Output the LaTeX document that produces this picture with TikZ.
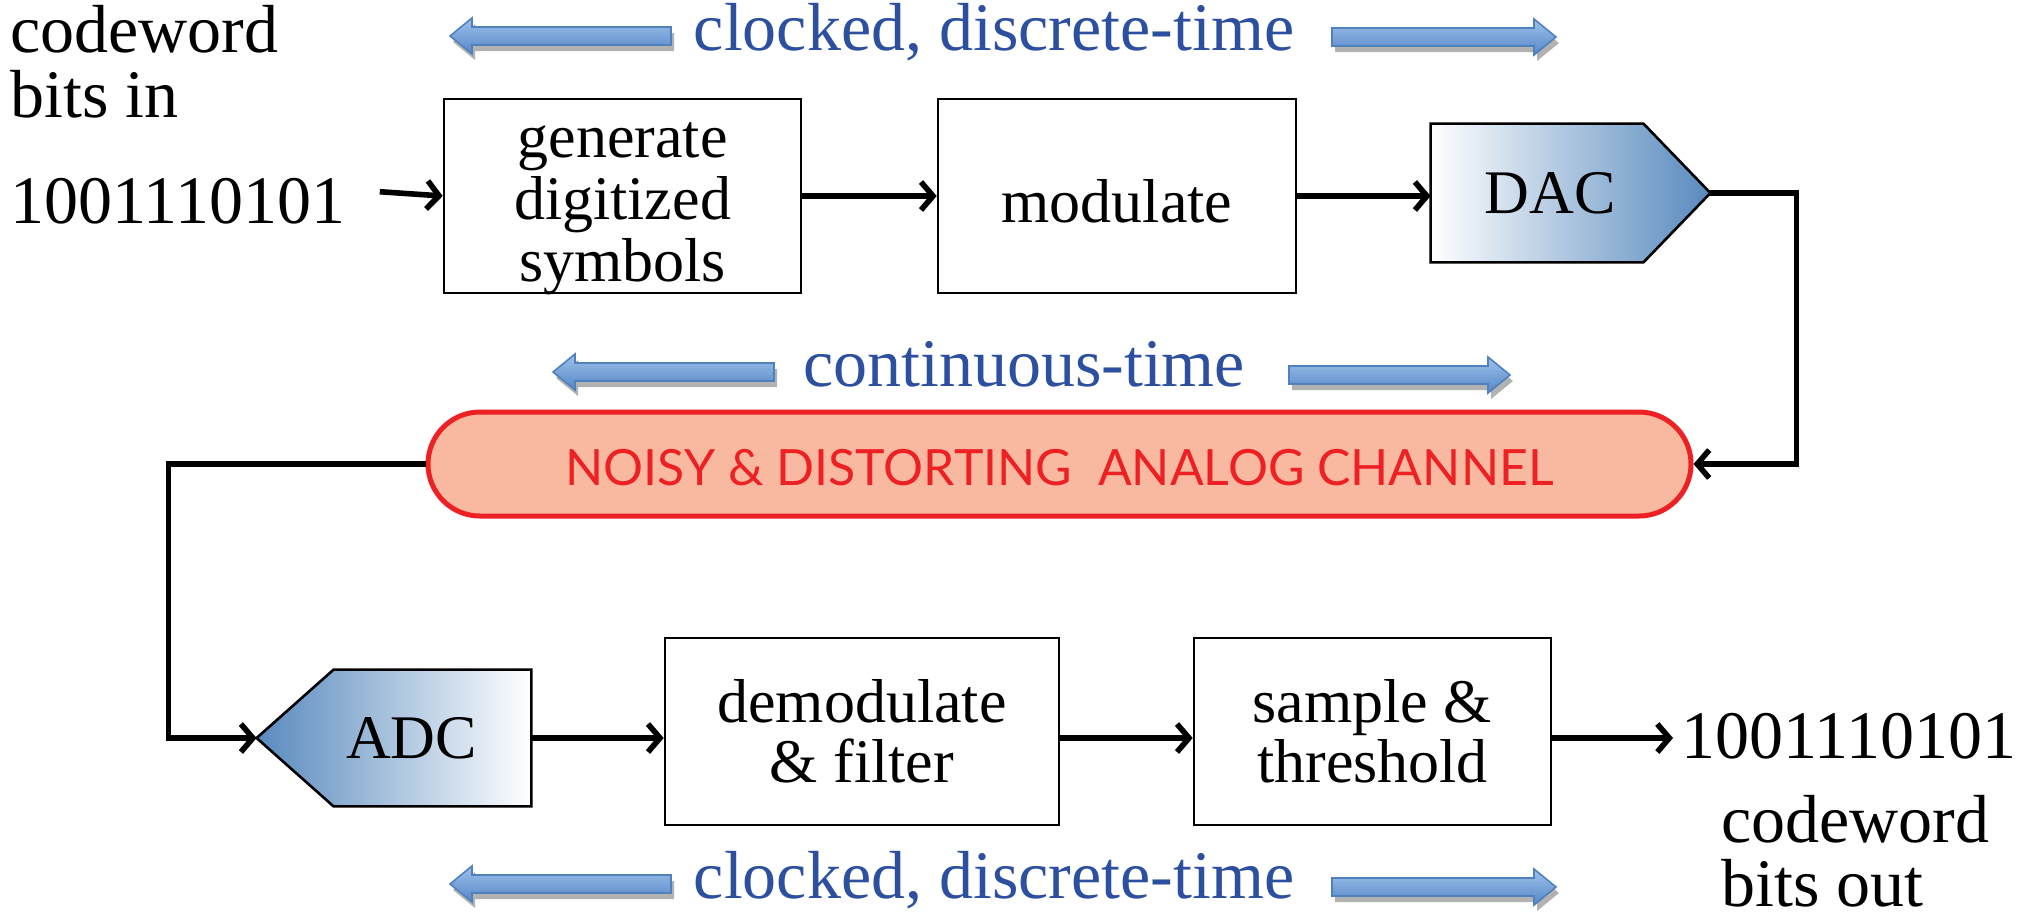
\documentclass[tikz,border=0pt]{standalone}
\usepackage{fontspec}
\setmainfont{Liberation Serif}
\newfontfamily\chanfont{Lato}
\usetikzlibrary{arrows.meta,shadows,backgrounds}
\definecolor{txtblue}{RGB}{44,79,160}
\definecolor{arrtop}{RGB}{160,194,234}
\definecolor{arrbot}{RGB}{84,134,200}
\definecolor{arrline}{RGB}{79,129,189}
\definecolor{dacblue}{RGB}{88,138,190}
\definecolor{chanred}{RGB}{237,32,36}
\definecolor{chanfill}{RGB}{249,185,160}
\tikzset{
  procbox/.style={draw, line width=1.3pt, fill=white, inner sep=0pt, align=center,
    font=\fontsize{31}{30}\selectfont},
  conv/.style={inner sep=0pt, font=\fontsize{31}{30}\selectfont},
  conn/.style={line width=2.8pt, -{Straight Barb[length=6pt,width=14pt]}},
  outer/.style={inner sep=0pt, anchor=base west, font=\fontsize{34}{34}\selectfont},
  bluetxt/.style={inner sep=0pt, anchor=base, text=txtblue, font=\fontsize{34}{34}\selectfont},
  blarr/.style={draw=arrline, line width=0.8pt, top color=arrtop, bottom color=arrbot,
    drop shadow={shadow xshift=1.5pt, shadow yshift=-3pt, opacity=0.3, fill=black}},
  chan/.style={draw=chanred, line width=2.5pt, fill=chanfill, text=chanred,
    rounded corners=26pt, inner sep=0pt, minimum width=631.5pt, minimum height=52pt,
    font=\chanfont\fontsize{25}{26}\selectfont}
}
\newcommand\leftblue[3]{%
  \path[blarr] (#1,#3) -- (#1+22,#3-18) -- (#1+22,#3-9) -- (#2,#3-9) -- (#2,#3+9)
    -- (#1+22,#3+9) -- (#1+22,#3+18) -- cycle;}
\newcommand\rightblue[3]{%
  \path[blarr] (#2,#3) -- (#2-22,#3-18) -- (#2-22,#3-9) -- (#1,#3-9) -- (#1,#3+9)
    -- (#2-22,#3+9) -- (#2-22,#3+18) -- cycle;}
\begin{document}
\begin{tikzpicture}[x=0.5pt,y=-0.5pt]
\useasboundingbox (0,0) rectangle (2032,917);

% outer texts
\node[outer] (cwin1) at (10,52) {codeword};
\node[outer] (cwin2) at (10,117) {bits in};
\node[outer] (inbits) at (10,223) {1001110101};
\node[outer] (outbits) at (1681,758) {1001110101};
\node[outer] (cwout1) at (1721,842) {codeword};
\node[outer] (cwout2) at (1721,906) {bits out};

% blue labels and arrows
\node[bluetxt] (lab1) at (994,50) {clocked, discrete-time};
\node[bluetxt] (lab2) at (1024,386) {continuous-time};
\node[bluetxt] (lab3) at (994,898) {clocked, discrete-time};
\leftblue{450}{671}{36}
\rightblue{1332}{1556}{37}
\leftblue{553}{774}{372}
\rightblue{1289}{1510}{375}
\leftblue{450}{671}{884}
\rightblue{1332}{1556}{887}

% boxes
\node[procbox, minimum width=178.5pt, minimum height=97pt] (box1) at (622.5,196)
  {\raisebox{-5.5pt}[\height][\depth]{\def\arraystretch{1.03}\begin{tabular}{@{}c@{}}generate\\digitized\\symbols\end{tabular}}};
\node[procbox, minimum width=179pt, minimum height=97pt] (box2) at (1117,196) {\raisebox{-2.5pt}[\height][\depth]{modulate}};
\node[procbox, minimum width=197pt, minimum height=93.5pt] (box3) at (862,731.5) {demodulate\\\&\ filter};
\node[procbox, minimum width=178.5pt, minimum height=93.5pt] (box4) at (1372.5,731.5) {sample \&\\threshold};

% converters
\node[conv, minimum width=106pt, minimum height=69pt] (dac) at (1537,193) {\hspace*{13pt}DAC};
\coordinate (dactip) at ([xshift=33.5pt]dac.east);
\node[conv, minimum width=98.5pt, minimum height=68pt] (adc) at (432.5,738) {ADC\hspace*{21pt}};
\coordinate (adctip) at ([xshift=-38.5pt]adc.west);
\begin{scope}[on background layer]
  \shade[left color=white, right color=dacblue, draw=black, line width=1.3pt]
    (dac.north west) -- (dac.north east) -- (dactip) -- (dac.south east) -- (dac.south west) -- cycle;
  \shade[left color=dacblue, right color=white, draw=black, line width=1.3pt]
    (adc.north east) -- (adc.north west) -- (adctip) -- (adc.south west) -- (adc.south east) -- cycle;
\end{scope}

% channel
\node[chan] (chan) at (1059.5,464) {\raisebox{-2pt}[\height][\depth]{NOISY \& DISTORTING\ \ ANALOG CHANNEL}};

% connectors
\draw[conn] ([xshift=17pt,yshift=4.5pt]inbits.east) -- (box1.west);
\draw[conn] (box1.east) -- (box2.west);
\draw[conn] (box2.east) -- (box2.east -| dac.west);
\draw[conn] (dactip) -- ++(86,0) |- (chan.east);
\draw[conn] (chan.west) -- ++(-257,0) |- (adctip);
\draw[conn] (adc.east) -- (adc.east -| box3.west);
\draw[conn] (box3.east |- adc.east) -- (box4.west |- adc.east);
\draw[conn] (box4.east |- adc.east) -- ([xshift=-4pt]outbits.west |- adc.east);
\end{tikzpicture}
\end{document}
